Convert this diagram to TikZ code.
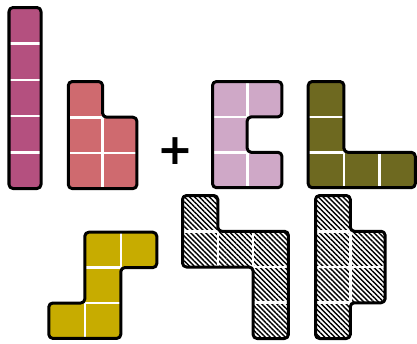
\documentclass[tikz,border=0pt]{standalone}
\usepackage{fontspec}
\usepackage{tikz}
\usetikzlibrary{patterns.meta}
\newfontfamily\plusfont{DejaVu Sans}

\definecolor{pieceA}{HTML}{B4507F}
\definecolor{pieceB}{HTML}{CF6A6F}
\definecolor{pieceC}{HTML}{CFA8C7}
\definecolor{pieceD}{HTML}{6E6920}
\definecolor{pieceE}{HTML}{C7AC00}

\begin{document}
\begin{tikzpicture}[x=1bp, y=-1bp,
		outline/.style={draw=black, line width=3bp, rounded corners=4bp, line join=round},
		seam/.style={draw=white, line width=2.6bp},
		hatch/.style={pattern={Lines[angle=-45, distance=3.5bp, line width=1.4bp]}}]
		\useasboundingbox (0,0) rectangle (417,344);
		
		% Top row, left of the plus
		\begin{scope}[shift={(9,7.5)}, x=32bp, y=-36.2bp]
			\fill[pieceA, rounded corners=4bp] (0,0) -- (1,0) -- (1,5) -- (0,5) -- cycle;
			\foreach \r in {1,...,4} \draw[seam] (0,\r) -- (1,\r);
			\draw[outline] (0,0) -- (1,0) -- (1,5) -- (0,5) -- cycle;
		\end{scope}
		\begin{scope}[shift={(68.3,81.5)}, x=34.3bp, y=-35.7bp]
			\fill[pieceB, rounded corners=4bp] (0,0) -- (1,0) -- (1,1) -- (2,1) -- (2,3) -- (0,3) -- cycle;
			\draw[seam] (0,1) -- (1,1) (0,2) -- (2,2) (1,1) -- (1,3);
			\draw[outline] (0,0) -- (1,0) -- (1,1) -- (2,1) -- (2,3) -- (0,3) -- cycle;
		\end{scope}
		
		% Plus
		\node[font=\plusfont\bfseries\fontsize{43}{43}\selectfont, inner sep=0pt] (plus) at (175,151) {+};
		
		% Top row, right of the plus
		\begin{scope}[shift={(212.5,81.5)}, x=34.7bp, y=-35.4bp]
			\fill[pieceC, rounded corners=4bp] (0,0) -- (2,0) -- (2,1) -- (1,1) -- (1,2) -- (2,2) -- (2,3) -- (0,3) -- cycle;
			\draw[seam] (1,0) -- (1,1) (1,2) -- (1,3) (0,1) -- (1,1) (0,2) -- (1,2);
			\draw[outline] (0,0) -- (2,0) -- (2,1) -- (1,1) -- (1,2) -- (2,2) -- (2,3) -- (0,3) -- cycle;
		\end{scope}
		\begin{scope}[shift={(308.2,81.5)}, x=35.7bp, y=-35.4bp]
			\fill[pieceD, rounded corners=4bp] (0,0) -- (1,0) -- (1,2) -- (3,2) -- (3,3) -- (0,3) -- cycle;
			\draw[seam] (0,1) -- (1,1) (0,2) -- (1,2) (1,2) -- (1,3) (2,2) -- (2,3);
			\draw[outline] (0,0) -- (1,0) -- (1,2) -- (3,2) -- (3,3) -- (0,3) -- cycle;
		\end{scope}
		
		% Bottom row
		\begin{scope}[shift={(48.8,232.2)}, x=36bp, y=-35.4bp]
			\fill[pieceE, rounded corners=4bp] (1,0) -- (3,0) -- (3,1) -- (2,1) -- (2,3) -- (0,3) -- (0,2) -- (1,2) -- cycle;
			\draw[seam] (2,0) -- (2,1) (1,2) -- (1,3) (1,1) -- (2,1) (1,2) -- (2,2);
			\draw[outline] (1,0) -- (3,0) -- (3,1) -- (2,1) -- (2,3) -- (0,3) -- (0,2) -- (1,2) -- cycle;
		\end{scope}
		\begin{scope}[shift={(182.5,195.5)}, x=35.3bp, y=-35.75bp]
			\fill[white, rounded corners=4bp] (0,0) -- (1,0) -- (1,1) -- (3,1) -- (3,4) -- (2,4) -- (2,2) -- (0,2) -- cycle;
			\fill[hatch, rounded corners=4bp] (0,0) -- (1,0) -- (1,1) -- (3,1) -- (3,4) -- (2,4) -- (2,2) -- (0,2) -- cycle;
			\draw[seam] (0,1) -- (1,1) (1,1) -- (1,2) (2,1) -- (2,2) (2,2) -- (3,2) (2,3) -- (3,3);
			\draw[outline] (0,0) -- (1,0) -- (1,1) -- (3,1) -- (3,4) -- (2,4) -- (2,2) -- (0,2) -- cycle;
		\end{scope}
		\begin{scope}[shift={(315.5,195.5)}, x=34.8bp, y=-35.75bp]
			\fill[white, rounded corners=4bp] (0,0) -- (1,0) -- (1,1) -- (2,1) -- (2,3) -- (1,3) -- (1,4) -- (0,4) -- cycle;
			\fill[hatch, rounded corners=4bp] (0,0) -- (1,0) -- (1,1) -- (2,1) -- (2,3) -- (1,3) -- (1,4) -- (0,4) -- cycle;
			\draw[seam] (0,1) -- (1,1) (0,2) -- (2,2) (0,3) -- (1,3) (1,1) -- (1,3);
			\draw[outline] (0,0) -- (1,0) -- (1,1) -- (2,1) -- (2,3) -- (1,3) -- (1,4) -- (0,4) -- cycle;
		\end{scope}
	\end{tikzpicture}
\end{document}
